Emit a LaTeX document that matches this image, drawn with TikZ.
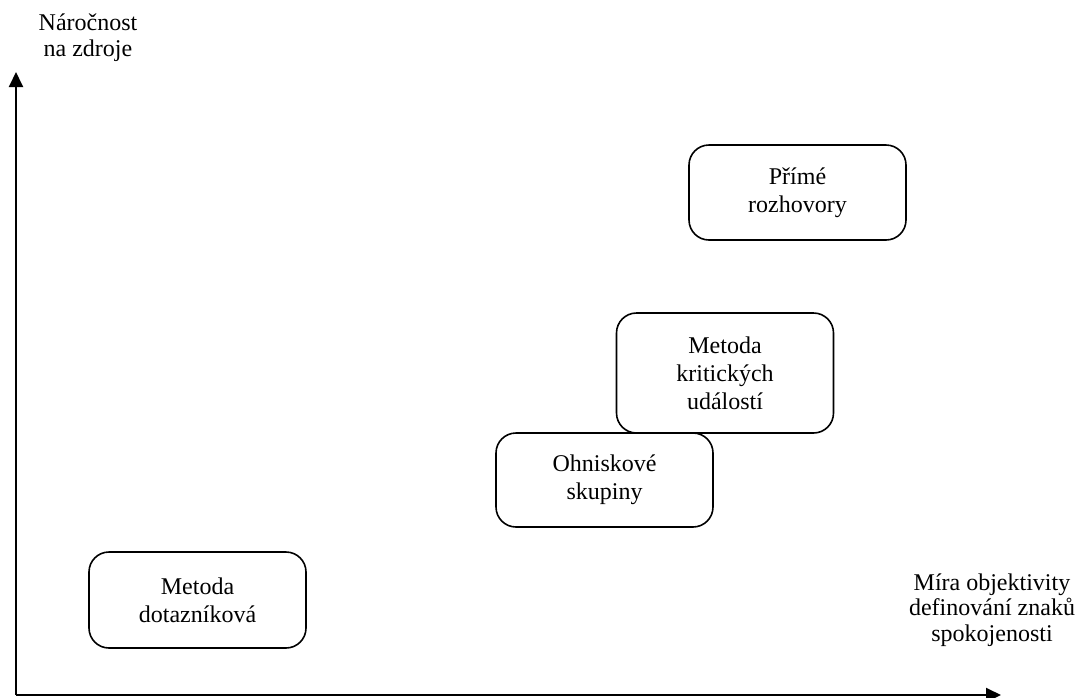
\documentclass[tikz,border=0pt]{standalone}
\usepackage{fontspec}
\setmainfont{Liberation Serif}
\usetikzlibrary{arrows.meta}
\begin{document}
\begin{tikzpicture}[x=0.5pt,y=-0.5pt,
  method/.style={draw,line width=0.8pt,rounded corners=10pt,fill=white,
    align=center,font=\fontsize{12}{14}\selectfont,inner sep=0pt},
  axislabel/.style={align=center,font=\fontsize{12}{12.8}\selectfont,inner sep=0pt},
  axis/.style={line width=1pt,-{Triangle[length=7.5pt,width=7pt]}}]
\useasboundingbox (0,0) rectangle (1080,697);
% axes
\coordinate (origin) at (16,695);
\coordinate (ytip) at (16,72);
\coordinate (xtip) at (1001,695);
\draw[axis] (origin) -- (ytip);
\draw[axis] (origin) -- (xtip);
\node[axislabel] (ylab) at (88,38) {Náročnost\\na zdroje};
\node[axislabel] (xlab) at (992,610) {Míra objektivity\\definování znaků\\spokojenosti};
% methods
\node[method,minimum width=108.5pt,minimum height=47.5pt] (prime) at (797.5,192.5) {Přímé\\rozhovory};
\node[method,minimum width=108.5pt,minimum height=60pt] (kriticke) at (725,373) {Metoda\\kritických\\událostí};
\node[method,minimum width=108.5pt,minimum height=47pt] (ohniskove) at (604.5,480) {Ohniskové\\skupiny};
\node[method,minimum width=108.5pt,minimum height=48pt] (dotaznik) at (197.5,600) {Metoda\\dotazníková};
\end{tikzpicture}
\end{document}
